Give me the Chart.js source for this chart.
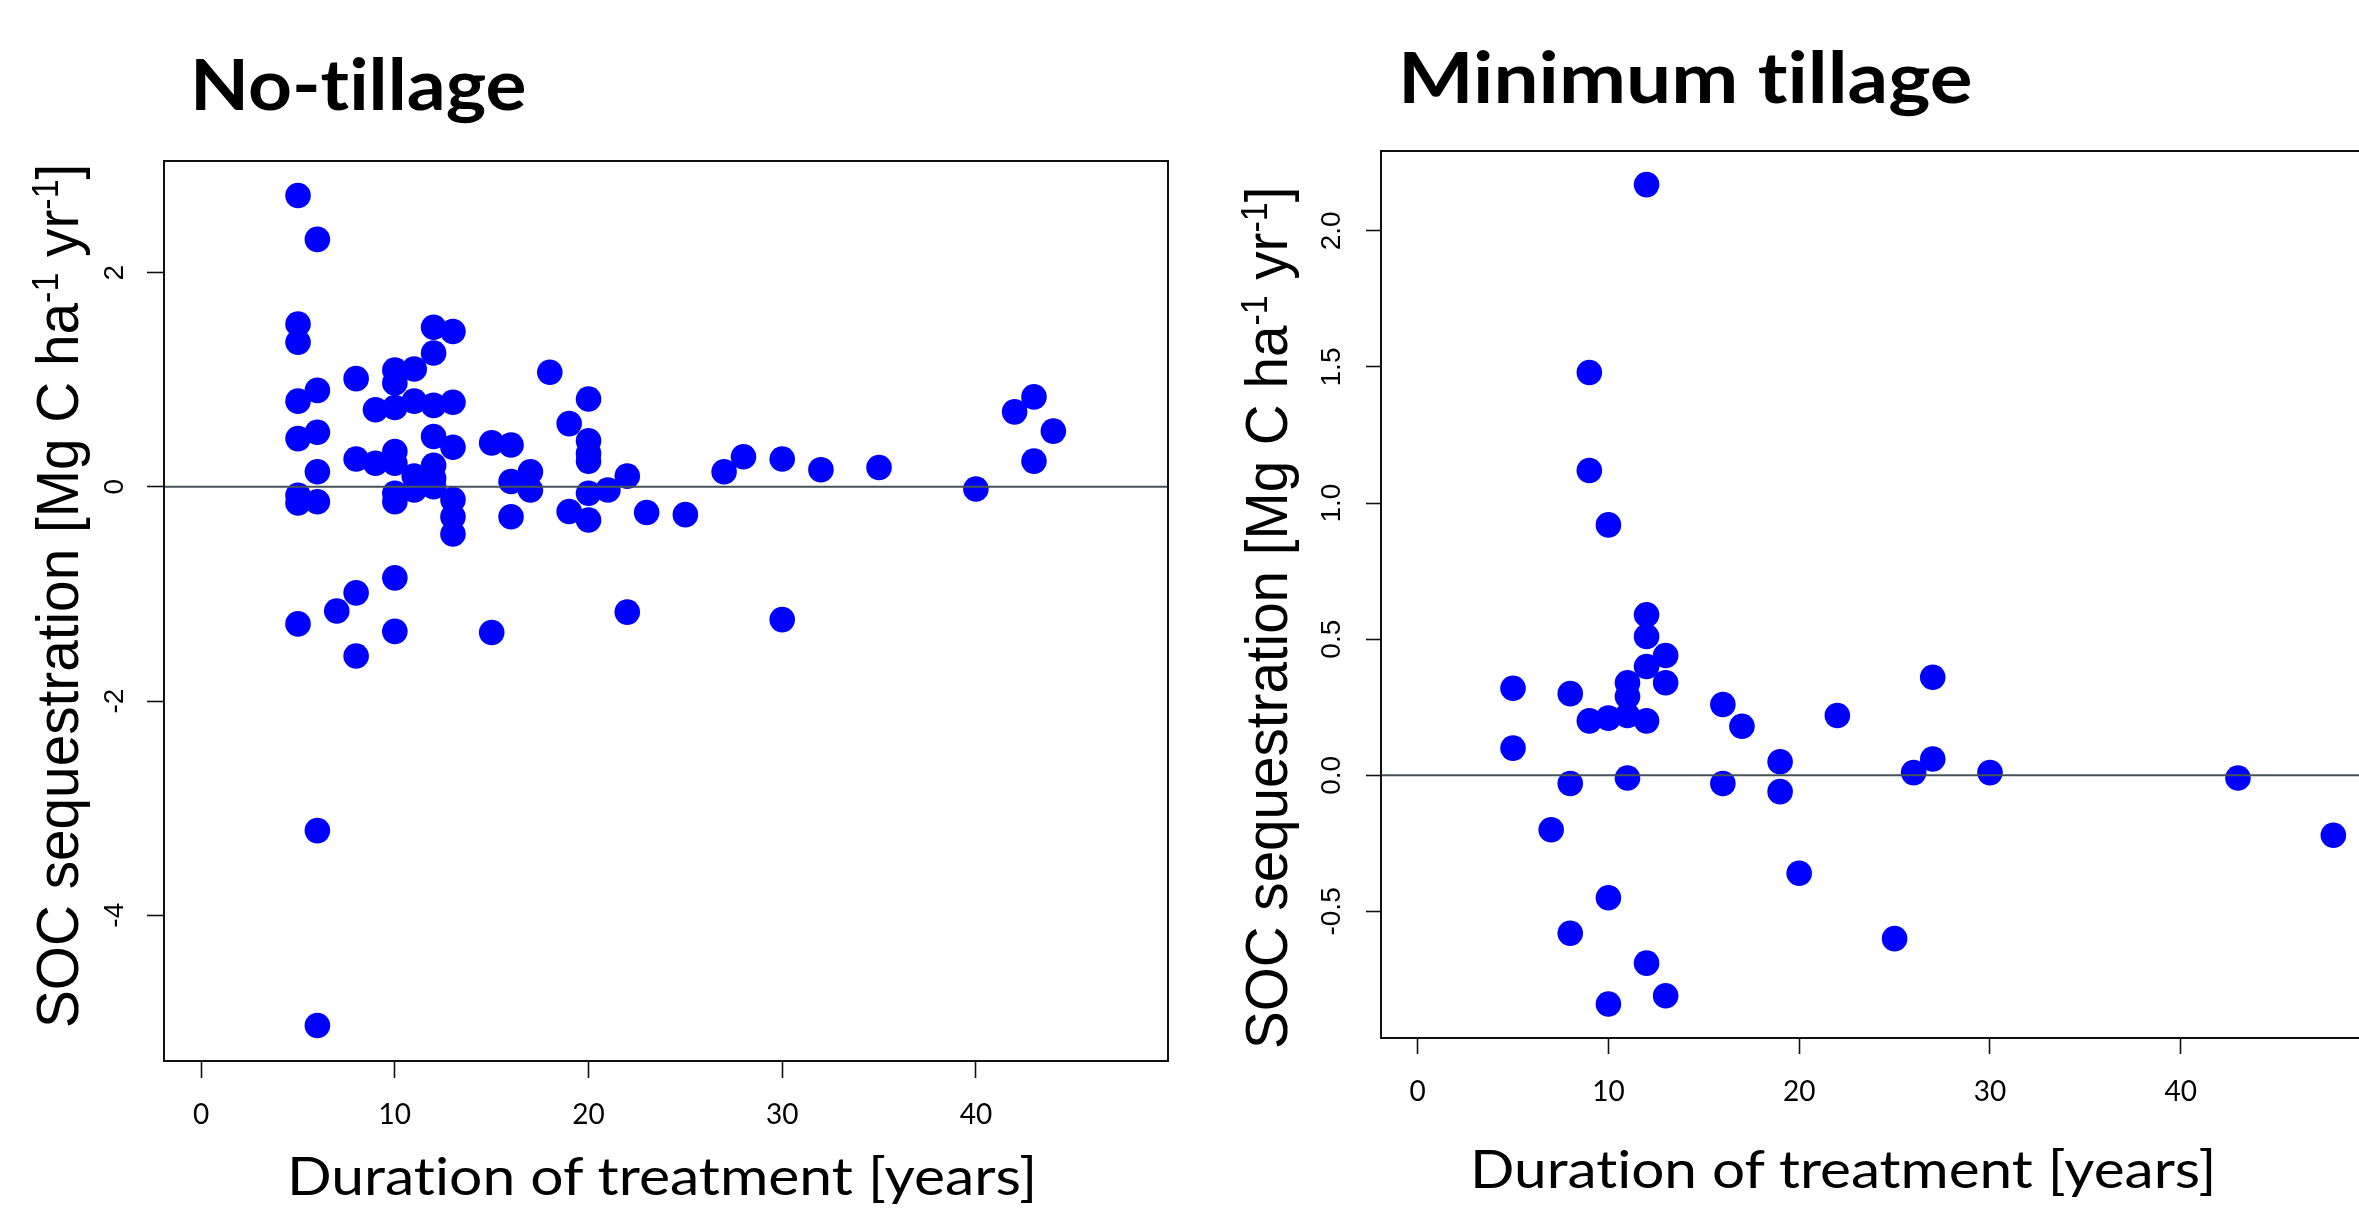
<!DOCTYPE html>
<html>
<head>
<meta charset="utf-8">
<script src="https://cdn.jsdelivr.net/npm/chart.js@4.4.1/dist/chart.umd.min.js"></script>
<style>
  html, body { margin: 0; padding: 0; background: #fff; overflow: hidden; }
  #lienzo { position: relative; width: 2359px; height: 1208px; overflow: hidden; background: #fff; }
  canvas { position: absolute; top: 0; }
  .texto { position: absolute; left: 0; top: 0; white-space: nowrap; line-height: 1; color: #000; transform-origin: 0 0;
           font-variant-ligatures: none; font-feature-settings: "liga" 0, "clig" 0; }
  .titulo { font-family: Lato, "Open Sans", sans-serif; font-weight: 700; font-size: 71px; }
  .ejeX { font-family: Lato, "Open Sans", sans-serif; font-size: 52px; }
  .ejeY { font-family: "Liberation Sans", Arial, sans-serif; font-size: 60px; }
  .ejeY sup { font-size: 0.6em; vertical-align: 0.55em; }
</style>
</head>
<body>
<div id="lienzo">
  <canvas id="graficoNT" width="1200" height="1208" style="left:0px"></canvas>
  <canvas id="graficoMT" width="1200" height="1208" style="left:1200px"></canvas>

  <div class="texto titulo" id="tituloNT">No-tillage</div>
  <div class="texto titulo" id="tituloMT">Minimum tillage</div>
  <div class="texto ejeX" id="ejeXNT">Duration of treatment [years]</div>
  <div class="texto ejeX" id="ejeXMT">Duration of treatment [years]</div>
  <div class="texto ejeY" id="ejeYNT">SOC sequestration [Mg C ha<sup>-1</sup> yr<sup>-1</sup>]</div>
  <div class="texto ejeY" id="ejeYMT">SOC sequestration [Mg C ha<sup>-1</sup> yr<sup>-1</sup>]</div>
</div>

<script>
// datos: duracion (anios) y secuestro de SOC

// No-tillage
const aniosNT = [
  5, 5, 5, 5, 5, 5, 5, 5,
  6, 6, 6, 6, 6, 6, 6,
  7,
  8, 8, 8, 8,
  9, 9,
  10, 10, 10, 10, 10, 10, 10, 10, 10,
  11, 11, 11, 11,
  12, 12, 12, 12, 12, 12, 12,
  13, 13, 13, 13, 13, 13,
  15, 15,
  16, 16, 16,
  17, 17,
  18,
  19, 19,
  20, 20, 20, 20, 20, 20,
  21,
  22, 22,
  23, 25, 27, 28,
  30, 30,
  32, 35, 40, 42,
  43, 43,
  44
];
const secuestroNT = [
  2.72, 1.52, 1.35, 0.80, 0.45, -0.08, -0.15, -1.28,
  2.31, 0.90, 0.51, 0.14, -0.14, -3.21, -5.03,
  -1.16,
  1.01, 0.26, -0.99, -1.58,
  0.72, 0.22,
  1.09, 0.97, 0.74, 0.33, 0.22, -0.06, -0.14, -0.85, -1.35,
  1.10, 0.80, 0.10, -0.03,
  1.49, 1.25, 0.76, 0.47, 0.20, 0.08, 0.00,
  1.45, 0.79, 0.37, -0.12, -0.28, -0.44,
  0.41, -1.36,
  0.39, 0.05, -0.28,
  0.14, -0.03,
  1.07,
  0.59, -0.23,
  0.82, 0.43, 0.31, 0.24, -0.06, -0.31,
  -0.03,
  0.10, -1.17,
  -0.24, -0.26, 0.14, 0.28,
  0.26, -1.24,
  0.16, 0.18, -0.02, 0.70,
  0.84, 0.24,
  0.52
];

// Minimum tillage
const aniosMT = [
  5, 5,
  7,
  8, 8, 8,
  9, 9, 9,
  10, 10, 10, 10,
  11, 11, 11, 11,
  12, 12, 12, 12, 12, 12,
  13, 13, 13,
  16, 16,
  17,
  19, 19,
  20, 22, 25, 26,
  27, 27,
  30, 43, 48
];
const secuestroMT = [
  0.32, 0.10,
  -0.20,
  0.30, -0.03, -0.58,
  1.48, 1.12, 0.20,
  0.92, 0.21, -0.45, -0.84,
  0.34, 0.29, 0.22, -0.01,
  2.17, 0.59, 0.51, 0.40, 0.20, -0.69,
  0.44, 0.34, -0.81,
  0.26, -0.03,
  0.18,
  0.05, -0.06,
  -0.36, 0.22, -0.60, 0.01,
  0.36, 0.06,
  0.01, -0.01, -0.22
];

// marcas de los ejes
const ticksX = [0, 10, 20, 30, 40];
const ticksYNT = [-4, -2, 0, 2];
const ticksYMT = [-0.5, 0, 0.5, 1, 1.5, 2];

// rango de los ejes (como R, 4% extra)
const rangoX = [-1.92, 49.92];
const rangoYNT = [-5.361, 3.042];
const rangoYMT = [-0.965, 2.2935];

// linea en cero encima de los puntos y marco completo
const marcoYCero = {
  id: 'marcoYCero',
  afterDatasetsDraw(chart) {
    const ctx = chart.ctx;
    const a = chart.chartArea;
    const y0 = chart.scales.y.getPixelForValue(0);
    ctx.save();
    ctx.strokeStyle = '#46525a';
    ctx.lineWidth = 2;
    ctx.beginPath();
    ctx.moveTo(a.left, y0);
    ctx.lineTo(a.right, y0);
    ctx.stroke();
    ctx.strokeStyle = '#111';
    ctx.lineWidth = 2;
    ctx.strokeRect(a.left, a.top, a.right - a.left, a.bottom - a.top);
    ctx.restore();
  }
};

function crearGrafico(idCanvas, anios, valores, ticksY, rangoY, decimales, area) {
  const puntos = anios.map((a, i) => ({ x: a, y: valores[i] }));

  return new Chart(document.getElementById(idCanvas), {
    type: 'scatter',
    data: {
      datasets: [{
        data: puntos,
        backgroundColor: '#0000ff',
        borderWidth: 0,
        pointRadius: 12.8,
        pointHoverRadius: 12.8
      }]
    },
    options: {
      responsive: false,
      animation: false,
      devicePixelRatio: 1,
      layout: { padding: { top: area.arriba, right: area.derecha, left: 0, bottom: 0 } },
      plugins: {
        legend: { display: false },
        tooltip: { enabled: false }
      },
      scales: {
        x: {
          type: 'linear',
          min: rangoX[0],
          max: rangoX[1],
          afterBuildTicks: s => { s.ticks = ticksX.map(v => ({ value: v })); },
          afterFit: s => { s.height = area.abajo; },
          border: { display: false },
          grid: { drawOnChartArea: false, tickLength: area.tickX, tickColor: '#111', tickWidth: 1.6 },
          ticks: {
            autoSkip: false,
            maxRotation: 0,
            color: '#000',
            padding: area.padX,
            font: { family: 'Lato, "Open Sans", sans-serif', size: 28 }
          }
        },
        y: {
          type: 'linear',
          min: rangoY[0],
          max: rangoY[1],
          afterBuildTicks: s => { s.ticks = ticksY.map(v => ({ value: v })); },
          afterFit: s => { s.width = area.izquierda; },
          border: { display: false },
          grid: { drawOnChartArea: false, tickLength: area.tickY, tickColor: '#111', tickWidth: 1.6 },
          ticks: {
            autoSkip: false,
            minRotation: 90,
            maxRotation: 90,
            crossAlign: 'center',
            color: '#000',
            padding: area.padY,
            font: { family: '"Liberation Sans", Arial, sans-serif', size: 28 },
            callback: v => Number(v).toFixed(decimales)
          }
        }
      }
    },
    plugins: [marcoYCero]
  });
}

crearGrafico('graficoNT', aniosNT, secuestroNT, ticksYNT, rangoYNT, 0,
  { izquierda: 164, derecha: 32, arriba: 161, abajo: 147, tickX: 17, tickY: 17, padX: 20, padY: 19.5 });
crearGrafico('graficoMT', aniosMT, secuestroMT, ticksYMT, rangoYMT, 1,
  { izquierda: 181, derecha: 30, arriba: 151, abajo: 170, tickX: 16, tickY: 15, padX: 21.5, padY: 10 });

// textos: posicion por linea base y ancho medido en la imagen
function lineaBase(el) {
  const m = document.createElement('span');
  m.style.display = 'inline-block';
  m.style.width = '0px';
  m.style.height = '0px';
  el.appendChild(m);
  const b = m.offsetTop;
  el.removeChild(m);
  return b;
}

function ponerHorizontal(id, x, base, ancho) {
  const el = document.getElementById(id);
  const w = el.offsetWidth;
  const b = lineaBase(el);
  el.style.transform = `translate(${x}px, ${base - b}px) scaleX(${ancho / w})`;
}

function ponerVertical(id, baseX, abajo, arriba) {
  const el = document.getElementById(id);
  const w = el.offsetWidth;
  const b = lineaBase(el);
  const largo = abajo - arriba;
  el.style.transform = `translate(${baseX - b}px, ${abajo}px) rotate(-90deg) scaleX(${largo / w})`;
}

ponerHorizontal('tituloNT', 190, 110, 336);
ponerHorizontal('tituloMT', 1398, 102.6, 574);
ponerHorizontal('ejeXNT', 287, 1195, 750);
ponerHorizontal('ejeXMT', 1470, 1187.5, 746);
ponerVertical('ejeYNT', 78, 1028, 164);
ponerVertical('ejeYMT', 1287, 1049, 187);
</script>
</body>
</html>
